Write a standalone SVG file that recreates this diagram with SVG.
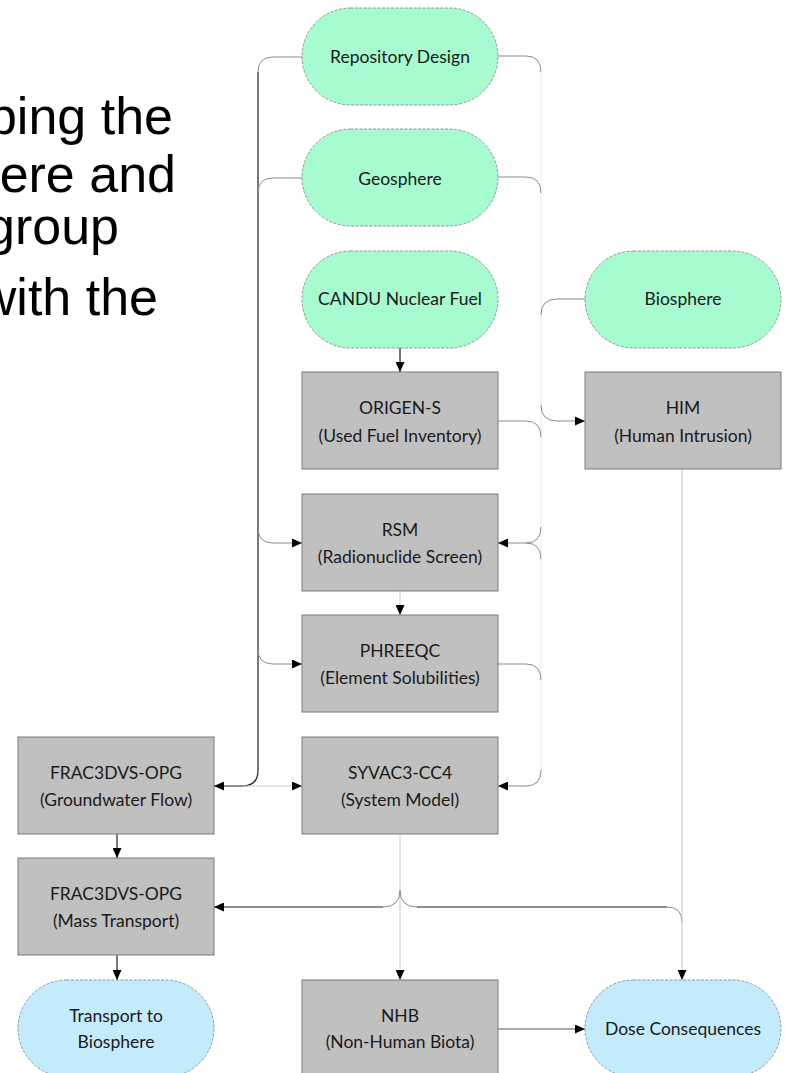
<svg xmlns="http://www.w3.org/2000/svg" width="786" height="1073" viewBox="0 0 786 1073">
<style>
.bg{font-family:"Liberation Sans",Arial,sans-serif;font-size:52px;fill:#000;text-anchor:end}
.t{font-family:Lato,"Open Sans",sans-serif;font-size:17.5px;fill:#1a1a1a;text-anchor:middle}
.green{fill:#a6fbcf;stroke:#7f7f7f;stroke-width:0.8;stroke-dasharray:3 1.5}
.blue{fill:#c4ebfb;stroke:#7f7f7f;stroke-width:0.8;stroke-dasharray:3 1.5}
.box{fill:#c0c0c0;stroke:#7a7a7a;stroke-width:1}
.dark{fill:none;stroke:#1e1e1e;stroke-width:1.2}
.mid{fill:none;stroke:#8c8c8c;stroke-width:1}
.light{fill:none;stroke:#c8c8c8;stroke-width:1}
.faint{fill:none;stroke:#ececec;stroke-width:1}
</style>
<defs>
<marker id="arr" markerUnits="userSpaceOnUse" markerWidth="10" markerHeight="9" refX="10" refY="4.5" orient="auto">
<path d="M0,0 L10,4.5 L0,9 z" fill="#000"/>
</marker>
</defs>
<rect width="786" height="1073" fill="#fff"/>
<g id="bg-text">
<text class="bg" x="173" y="134">ping the</text>
<text class="bg" x="176" y="192">ere and</text>
<text class="bg" x="119" y="244">group</text>
<text class="bg" x="158" y="315">with the</text>
</g>
<g id="connectors">
<path class="mid" d="M302,57 H273 Q258,57 258,72"/>
<path class="dark" d="M258,72 V770 Q258,786 243,786 H214" marker-end="url(#arr)"/>
<path class="mid" d="M302,178 H273 Q258,178 258,193"/>
<path class="mid" d="M258,528 Q258,543 273,543 H302" marker-end="url(#arr)"/>
<path class="mid" d="M258,649 Q258,664 273,664 H302" marker-end="url(#arr)"/>
<path class="light" d="M243,786 H302" marker-end="url(#arr)"/>
<path class="faint" d="M541,72 V770"/>
<path class="mid" d="M498,56 H526 Q541,56 541,72"/>
<path class="mid" d="M498,177 H526 Q541,177 541,193"/>
<path class="mid" d="M498,421 H526 Q541,421 541,437"/>
<path class="mid" d="M541,527 Q541,543 526,543 H498" marker-end="url(#arr)"/>
<path class="mid" d="M526,543 Q541,543 541,559"/>
<path class="mid" d="M498,664 H526 Q541,664 541,680"/>
<path class="mid" d="M541,770 Q541,786 526,786 H498" marker-end="url(#arr)"/>
<path class="mid" d="M585,299 H557 Q541,299 541,315"/>
<path class="mid" d="M541,405 Q541,421 557,421 H585" marker-end="url(#arr)"/>
<path class="dark" d="M400,348 V372" marker-end="url(#arr)"/>
<path class="light" d="M400,591 V615" marker-end="url(#arr)"/>
<path class="light" d="M400,834 V980" marker-end="url(#arr)"/>
<path class="mid" d="M400,890 Q400,907 383,907"/>
<path class="mid" d="M400,890 Q400,907 417,907"/>
<path class="dark" d="M383,907 H214" marker-end="url(#arr)"/>
<path class="dark" d="M417,907 H667"/>
<path class="mid" d="M667,907 Q682,907 682,922"/>
<path class="light" d="M682,469 V980" marker-end="url(#arr)"/>
<path class="dark" d="M498,1029 H585" marker-end="url(#arr)" style="stroke:#555"/>
<path class="dark" d="M117,834 V858" marker-end="url(#arr)"/>
<path class="dark" d="M117,955 V980" marker-end="url(#arr)"/>
</g>
<g id="repository-design"><rect class="green" x="302" y="8" width="196" height="97" rx="48.5"/><text class="t" x="400" y="63">Repository Design</text></g>
<g id="geosphere"><rect class="green" x="302" y="129" width="196" height="97" rx="48.5"/><text class="t" x="400" y="185">Geosphere</text></g>
<g id="candu"><rect class="green" x="302" y="251" width="196" height="97" rx="48.5"/><text class="t" x="400" y="305">CANDU Nuclear Fuel</text></g>
<g id="biosphere"><rect class="green" x="585" y="251" width="196" height="97" rx="48.5"/><text class="t" x="683" y="305">Biosphere</text></g>
<g id="origen"><rect class="box" x="302" y="372" width="196" height="97"/><text class="t" x="400" y="414">ORIGEN-S</text><text class="t" x="400" y="442">(Used Fuel Inventory)</text></g>
<g id="him"><rect class="box" x="585" y="372" width="196" height="97"/><text class="t" x="683" y="414">HIM</text><text class="t" x="683" y="442">(Human Intrusion)</text></g>
<g id="rsm"><rect class="box" x="302" y="494" width="196" height="97"/><text class="t" x="400" y="536">RSM</text><text class="t" x="400" y="563">(Radionuclide Screen)</text></g>
<g id="phreeqc"><rect class="box" x="302" y="615" width="196" height="97"/><text class="t" x="400" y="657">PHREEQC</text><text class="t" x="400" y="684">(Element Solubilities)</text></g>
<g id="syvac"><rect class="box" x="302" y="737" width="196" height="97"/><text class="t" x="400" y="779">SYVAC3-CC4</text><text class="t" x="400" y="806">(System Model)</text></g>
<g id="frac-gw"><rect class="box" x="18" y="737" width="196" height="97"/><text class="t" x="116" y="779">FRAC3DVS-OPG</text><text class="t" x="116" y="806">(Groundwater Flow)</text></g>
<g id="frac-mt"><rect class="box" x="18" y="858" width="196" height="97"/><text class="t" x="116" y="900">FRAC3DVS-OPG</text><text class="t" x="116" y="927">(Mass Transport)</text></g>
<g id="transport"><rect class="blue" x="18" y="980" width="196" height="97" rx="48.5"/><text class="t" x="116" y="1022">Transport to</text><text class="t" x="116" y="1048">Biosphere</text></g>
<g id="nhb"><rect class="box" x="302" y="980" width="196" height="97"/><text class="t" x="400" y="1022">NHB</text><text class="t" x="400" y="1048">(Non-Human Biota)</text></g>
<g id="dose"><rect class="blue" x="585" y="980" width="196" height="97" rx="48.5"/><text class="t" x="683" y="1035">Dose Consequences</text></g>
</svg>
